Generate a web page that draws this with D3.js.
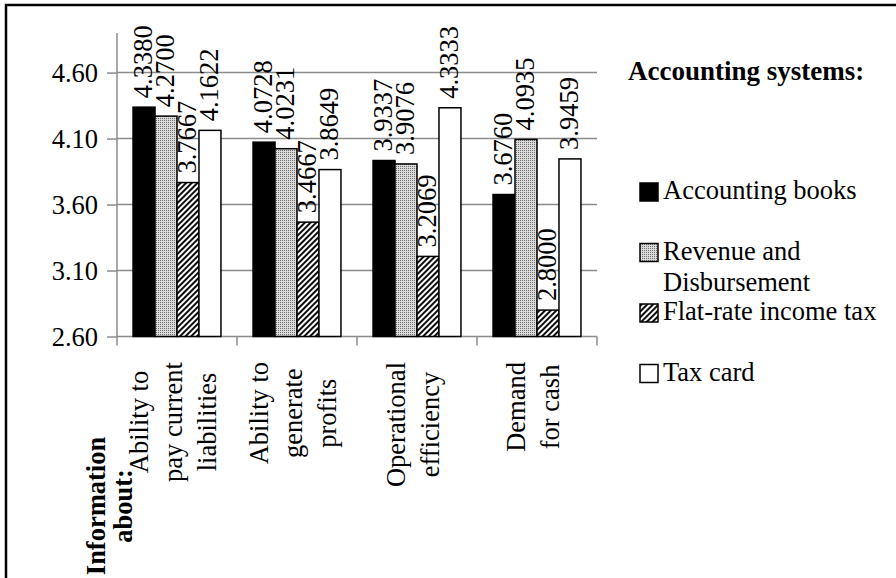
<!DOCTYPE html>
<html>
<head>
<meta charset="utf-8">
<script src="https://cdn.jsdelivr.net/npm/d3@7/dist/d3.min.js"></script>
<style>
  html, body { margin: 0; padding: 0; background: #fff; }
  svg { display: block; font-family: "Liberation Serif", "Times New Roman", serif; }
</style>
</head>
<body>
<svg id="chart" width="896" height="578"></svg>
<script>
// Survey means: information usefulness by accounting system
const categoryLines = [
  ["Ability to", "pay current", "liabilities"],
  ["Ability to", "generate", "profits"],
  ["Operational", "efficiency"],
  ["Demand", "for cash"]
];
const categories = categoryLines.map(l => l.join(" "));

const seriesNames = ["Accounting books", "Revenue and Disbursement", "Flat-rate income tax", "Tax card"];
const legendLines = [["Accounting books"], ["Revenue and", "Disbursement"], ["Flat-rate income tax"], ["Tax card"]];

const accountingBooks     = [4.3380, 4.0728, 3.9337, 3.6760];
const revenueDisbursement = [4.2700, 4.0231, 3.9076, 4.0935];
const flatRateIncomeTax   = [3.7667, 3.4667, 3.2069, 2.8000];
const taxCard             = [4.1622, 3.8649, 4.3333, 3.9459];
const seriesValues = [accountingBooks, revenueDisbursement, flatRateIncomeTax, taxCard];

const yTicks = [2.6, 3.1, 3.6, 4.1, 4.6];
const yDomain = [2.6, 4.9];

const legendTitle = "Accounting systems:";
const axisTitleLines = ["Information", "about:"];

const svg = d3.select("#chart");
const grid = "#8c8c8c";
const fontSize = 26.5;

// ---- fill patterns ----
const defs = svg.append("defs");
const dots = defs.append("pattern").attr("id", "dots")
  .attr("patternUnits", "userSpaceOnUse").attr("width", 2).attr("height", 2);
dots.append("rect").attr("width", 2).attr("height", 2).attr("fill", "#dadada");
dots.append("rect").attr("width", 1).attr("height", 1).attr("fill", "#707070");

const hatch = defs.append("pattern").attr("id", "hatch")
  .attr("patternUnits", "userSpaceOnUse").attr("width", 4).attr("height", 4)
  .attr("patternTransform", "rotate(45)");
hatch.append("rect").attr("width", 4).attr("height", 4).attr("fill", "#fff");
hatch.append("line").attr("x1", 1).attr("y1", 0).attr("x2", 1).attr("y2", 4)
  .attr("stroke", "#000").attr("stroke-width", 1.9);

const fills = ["#000", "url(#dots)", "url(#hatch)", "#fff"];

// ---- frame ----
svg.append("rect").attr("x", 6).attr("y", 5).attr("width", 1000).attr("height", 1000)
  .attr("fill", "none").attr("stroke", "#000").attr("stroke-width", 2.5);

// ---- scales ----
const plot = { left: 117, right: 597, top: 33, bottom: 336.5 };
const x0 = d3.scaleBand().domain(categories).range([plot.left, plot.right]).paddingInner(0).paddingOuter(0);
const x1 = d3.scaleBand().domain(seriesNames).range([0, x0.bandwidth()]).paddingInner(0).paddingOuter(0.73);
const y = d3.scaleLinear().domain(yDomain).range([plot.bottom, plot.top]);

// ---- gridlines ----
svg.append("g").selectAll("line").data(yTicks.slice(1)).join("line")
  .attr("x1", plot.left).attr("x2", plot.right)
  .attr("y1", d => y(d)).attr("y2", d => y(d))
  .attr("stroke", grid).attr("stroke-width", 1.5);

// ---- y axis ----
const yAxis = svg.append("g").attr("transform", `translate(${plot.left},0)`)
  .call(d3.axisLeft(y).tickValues(yTicks).tickFormat(d3.format(".2f")).tickSize(10).tickPadding(9));
yAxis.select(".domain").attr("stroke", grid).attr("stroke-width", 1.5).attr("d", `M0,${plot.top}V${plot.bottom}`);
yAxis.selectAll(".tick line").attr("stroke", grid).attr("stroke-width", 1.5);
yAxis.selectAll(".tick text").attr("font-size", fontSize).attr("fill", "#000")
  .attr("font-family", "Liberation Serif, serif").attr("dy", "0.34em");

// ---- x axis (baseline + category ticks) ----
const catEdges = categories.map(c => x0(c)).concat([plot.right]);
svg.append("line").attr("x1", plot.left).attr("x2", plot.right)
  .attr("y1", plot.bottom).attr("y2", plot.bottom).attr("stroke", grid).attr("stroke-width", 1.5);
svg.append("g").selectAll("line").data(catEdges).join("line")
  .attr("x1", d => d).attr("x2", d => d)
  .attr("y1", plot.bottom).attr("y2", plot.bottom + 9)
  .attr("stroke", grid).attr("stroke-width", 1.5);

// ---- bars ----
const fmt = d3.format(".4f");
const bars = [];
seriesNames.forEach((s, si) => {
  categories.forEach((c, ci) => bars.push({ s, si, c, v: seriesValues[si][ci] }));
});
svg.append("g").selectAll("rect").data(bars).join("rect")
  .attr("x", d => x0(d.c) + x1(d.s))
  .attr("y", d => y(d.v))
  .attr("width", x1.bandwidth())
  .attr("height", d => y(yDomain[0]) - y(d.v))
  .attr("fill", d => fills[d.si])
  .attr("stroke", "#000").attr("stroke-width", 1.5);

// ---- value labels ----
svg.append("g").selectAll("text").data(bars).join("text")
  .attr("transform", d => `translate(${x0(d.c) + x1(d.s) + x1.bandwidth() / 2},${y(d.v) - 9}) rotate(-90)`)
  .attr("dy", "0.3em")
  .attr("text-anchor", "start")
  .attr("font-size", fontSize)
  .text(d => fmt(d.v));

// ---- category labels (rotated, block aligned at the top) ----
const lineGap = 34;
categoryLines.forEach((lines, ci) => {
  const cx = x0(categories[ci]) + x0.bandwidth() / 2;
  const g = svg.append("g");
  const texts = lines.map((t, k) => g.append("text")
    .attr("font-size", fontSize).attr("text-anchor", "middle").text(t));
  const maxLen = d3.max(texts, t => t.node().getComputedTextLength());
  const cy = 362 + maxLen / 2;
  texts.forEach((t, k) => {
    const bx = cx + 5 + (k - (lines.length - 1) / 2) * lineGap;
    t.attr("transform", `translate(${bx},${cy}) rotate(-90)`);
  });
});

// ---- axis title ----
axisTitleLines.forEach((t, k) => {
  svg.append("text")
    .attr("transform", `translate(${105 + k * 27},506) rotate(-90)`)
    .attr("text-anchor", "middle").attr("font-weight", "bold")
    .attr("font-size", fontSize).text(t);
});

// ---- legend ----
svg.append("text").attr("x", 628).attr("y", 80)
  .attr("font-weight", "bold").attr("font-size", 27).text(legendTitle);

const legend = svg.append("g");
seriesNames.forEach((s, i) => {
  const base = 199 + i * 60.5;
  legend.append("rect").attr("x", 640).attr("y", base - 16).attr("width", 18).attr("height", 18)
    .attr("fill", fills[i]).attr("stroke", "#000").attr("stroke-width", 1.5);
  legendLines[i].forEach((t, k) => {
    legend.append("text").attr("x", 663).attr("y", base + k * 31)
      .attr("font-size", fontSize).text(t);
  });
});
</script>
</body>
</html>
